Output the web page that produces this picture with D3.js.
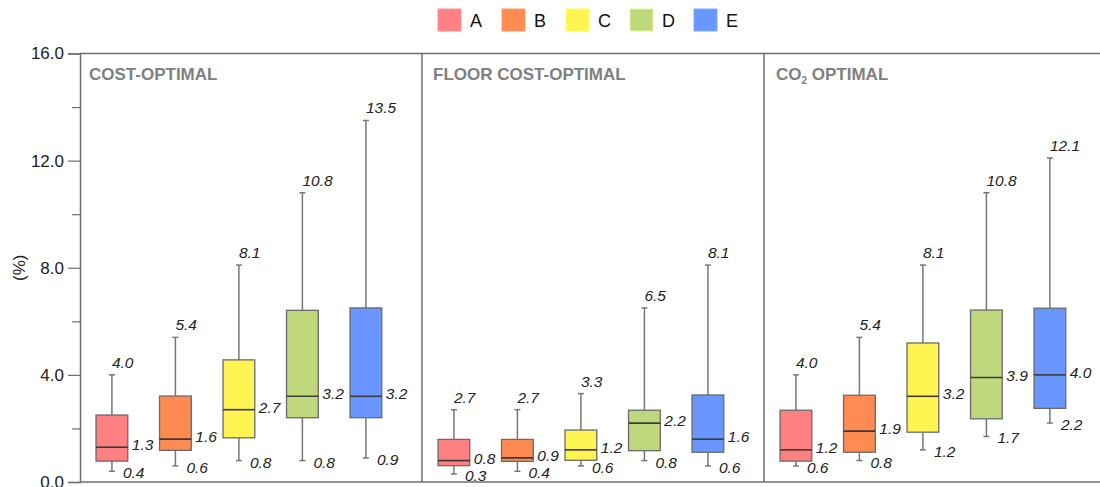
<!DOCTYPE html>
<html>
<head>
<meta charset="utf-8">
<script src="https://cdn.jsdelivr.net/npm/d3@7"></script>
<style>
  html, body { margin: 0; padding: 0; background: #fff; }
  svg { display: block; font-family: "Liberation Sans", Arial, sans-serif; }
</style>
</head>
<body>
<svg id="chart" width="1100" height="487"></svg>
<script>
// Categories and scenario panels
const categories = ["A", "B", "C", "D", "E"];
const scenarios = ["cost", "floor", "co2"];
const categoryColors = ["#ff8080", "#ff8a52", "#fff452", "#c0d87c", "#6a96ff"];

// Box statistics per scenario (rows) and category (columns), in %
const lowValues    = [[0.4, 0.6, 0.8, 0.8, 0.9],
                      [0.3, 0.4, 0.6, 0.8, 0.6],
                      [0.6, 0.8, 1.2, 1.7, 2.2]];
const q1Values     = [[0.78, 1.18, 1.65, 2.40, 2.40],
                      [0.61, 0.77, 0.81, 1.17, 1.11],
                      [0.78, 1.11, 1.86, 2.36, 2.75]];
const medianValues = [[1.3, 1.6, 2.7, 3.2, 3.2],
                      [0.8, 0.9, 1.2, 2.2, 1.6],
                      [1.2, 1.9, 3.2, 3.9, 4.0]];
const q3Values     = [[2.50, 3.21, 4.56, 6.41, 6.50],
                      [1.59, 1.59, 1.94, 2.68, 3.25],
                      [2.68, 3.24, 5.19, 6.42, 6.49]];
const highValues   = [[4.0, 5.4, 8.1, 10.8, 13.5],
                      [2.7, 2.7, 3.3, 6.5, 8.1],
                      [4.0, 5.4, 8.1, 10.8, 12.1]];

const yMajorTicks = [0, 4, 8, 12, 16];
const yMinorTicks = [2, 6, 10, 14];

const svg = d3.select("#chart");
const axisColor = "#6e6e6e";
const fmt = d3.format(".1f");

const y = d3.scaleLinear().domain([0, 16]).range([482, 53.5]);

const panelX = d3.scaleBand().domain(scenarios).range([80, 1106]).padding(0);
const boxX = d3.scaleBand().domain(categories)
  .range([0, panelX.bandwidth()])
  .paddingInner(0.5).paddingOuter(0.443).align(0.285);

// Frame: top border, panel separators, bottom border
const frame = svg.append("g");
frame.append("line").attr("x1", 80).attr("x2", 1100)
  .attr("y1", y(16)).attr("y2", y(16))
  .attr("stroke", axisColor).attr("stroke-width", 1.5);
frame.append("line").attr("x1", 80).attr("x2", 1100)
  .attr("y1", y(0)).attr("y2", y(0))
  .attr("stroke", axisColor).attr("stroke-width", 1.5);
scenarios.slice(1).forEach(s => {
  frame.append("line")
    .attr("x1", panelX(s)).attr("x2", panelX(s))
    .attr("y1", y(16)).attr("y2", y(0))
    .attr("stroke", axisColor).attr("stroke-width", 1.5);
});

// Y axis with major labelled ticks and short minor ticks
const yAxis = svg.append("g").attr("transform", "translate(80,0)")
  .call(d3.axisLeft(y).tickValues(yMajorTicks).tickFormat(fmt).tickSize(12).tickPadding(4));
yAxis.select(".domain").attr("stroke", axisColor).attr("stroke-width", 1.5);
yAxis.selectAll(".tick line").attr("stroke", axisColor).attr("stroke-width", 1.2);
yAxis.selectAll(".tick text").attr("font-size", 17).attr("fill", "#222")
  .attr("font-family", "Liberation Sans, Arial, sans-serif");

const yMinor = svg.append("g").attr("transform", "translate(80,0)")
  .call(d3.axisLeft(y).tickValues(yMinorTicks).tickFormat("").tickSize(8));
yMinor.select(".domain").remove();
yMinor.selectAll(".tick line").attr("stroke", axisColor).attr("stroke-width", 1.2);

svg.append("text")
  .attr("transform", `translate(25,${y(8)}) rotate(-90)`)
  .attr("text-anchor", "middle")
  .attr("font-size", 17).attr("fill", "#222")
  .text("(%)");

// Panel titles
const titles = svg.append("g").attr("font-weight", "bold").attr("font-size", 17).attr("fill", "#808080");
titles.append("text").attr("x", panelX("cost") + 9).attr("y", 80).text("COST-OPTIMAL");
titles.append("text").attr("x", panelX("floor") + 11).attr("y", 80).text("FLOOR COST-OPTIMAL");
const co2 = titles.append("text").attr("x", panelX("co2") + 12).attr("y", 80);
co2.append("tspan").text("CO");
co2.append("tspan").attr("font-size", 10).attr("dy", 4).text("2");
co2.append("tspan").attr("dy", -4).text(" OPTIMAL");

// Boxes
scenarios.forEach((s, si) => {
  const g = svg.append("g").attr("transform", `translate(${panelX(s)},0)`);
  categories.forEach((c, ci) => {
    const x0 = boxX(c), w = boxX.bandwidth(), cx = x0 + w / 2;
    const lo = lowValues[si][ci], q1 = q1Values[si][ci], med = medianValues[si][ci],
          q3 = q3Values[si][ci], hi = highValues[si][ci];
    const whisk = "#777";
    // whiskers and caps
    g.append("line").attr("x1", cx).attr("x2", cx).attr("y1", y(hi)).attr("y2", y(q3))
      .attr("stroke", whisk).attr("stroke-width", 1.5);
    g.append("line").attr("x1", cx).attr("x2", cx).attr("y1", y(q1)).attr("y2", y(lo))
      .attr("stroke", whisk).attr("stroke-width", 1.5);
    [hi, lo].forEach(v => g.append("line")
      .attr("x1", cx - 3).attr("x2", cx + 3).attr("y1", y(v)).attr("y2", y(v))
      .attr("stroke", whisk).attr("stroke-width", 1.5));
    // box
    g.append("rect").attr("x", x0).attr("y", y(q3)).attr("width", w).attr("height", y(q1) - y(q3))
      .attr("fill", categoryColors[ci]).attr("stroke", "#6a6a6a").attr("stroke-width", 1.3);
    // median
    g.append("line").attr("x1", x0).attr("x2", x0 + w).attr("y1", y(med)).attr("y2", y(med))
      .attr("stroke", "#3a3a3a").attr("stroke-width", 1.6);
    // value labels
    const lab = g.append("g").attr("font-size", 15.5).attr("font-style", "italic").attr("fill", "#222");
    lab.append("text").attr("x", cx).attr("y", y(hi) - 7).text(fmt(hi));
    lab.append("text").attr("x", x0 + w + 4).attr("y", y(med) + 3).text(fmt(med));
    lab.append("text").attr("x", cx + 11).attr("y", y(lo) + 7).text(fmt(lo));
  });
});

// Legend
const legend = svg.append("g");
categories.forEach((c, i) => {
  const lx = 438 + i * 64;
  legend.append("rect").attr("x", lx).attr("y", 9).attr("width", 23).attr("height", 22)
    .attr("fill", categoryColors[i]).attr("stroke", d3.color(categoryColors[i]).brighter(0.4)).attr("stroke-width", 1);
  legend.append("text").attr("x", lx + 32).attr("y", 27).attr("font-size", 18).attr("fill", "#111").text(c);
});
</script>
</body>
</html>
